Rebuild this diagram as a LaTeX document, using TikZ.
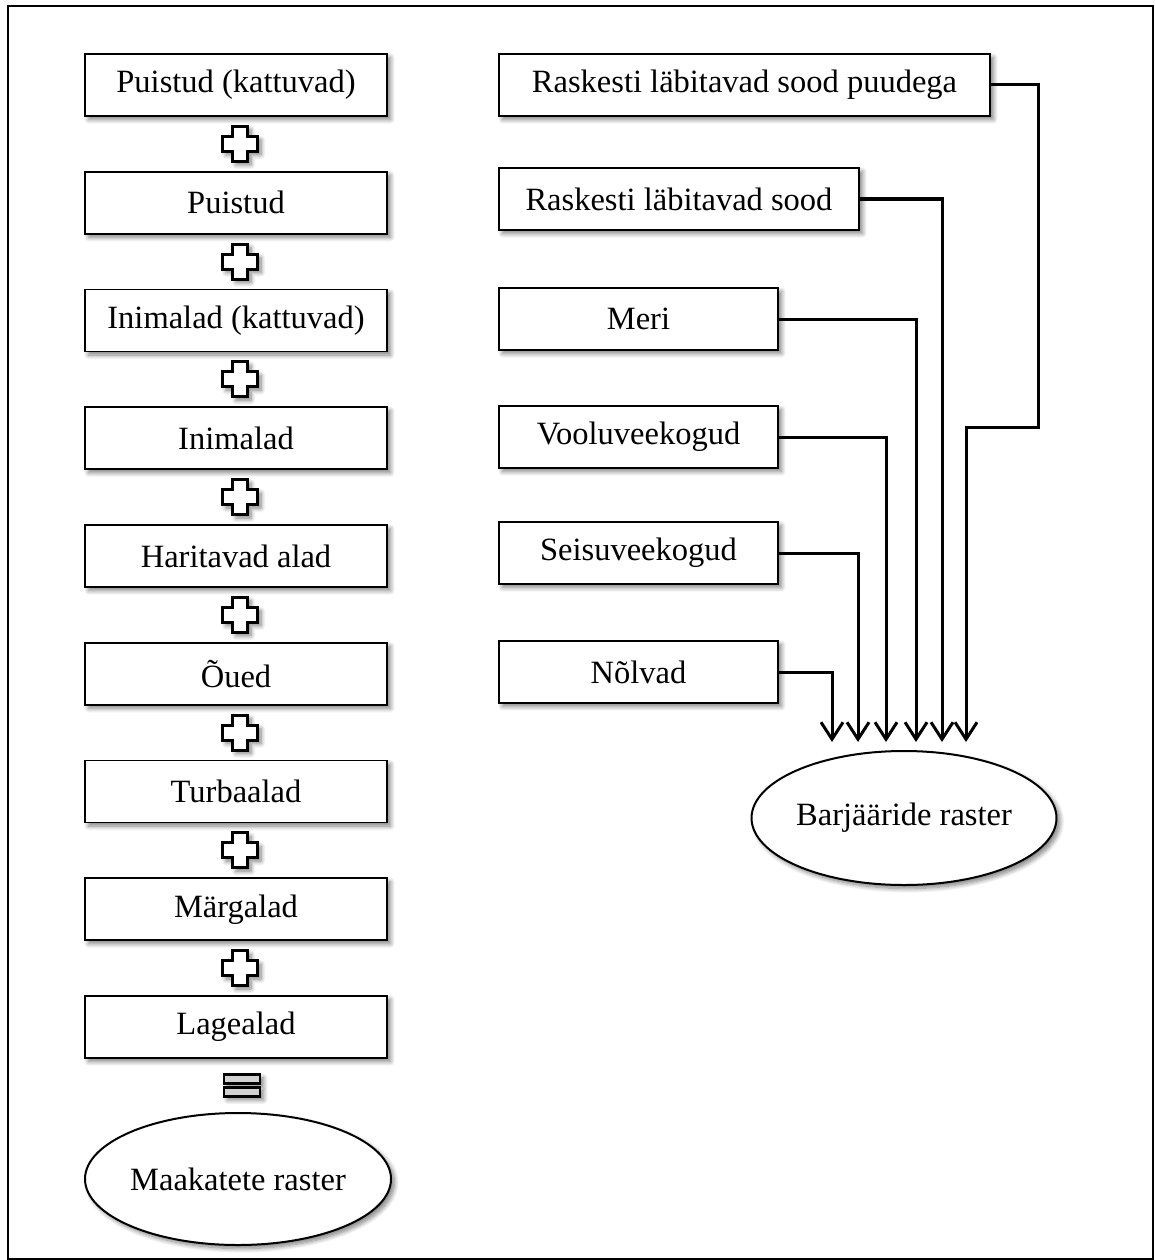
\documentclass[tikz,border=0pt]{standalone}
\usepackage{fontspec}
\setmainfont{Liberation Serif}
\usetikzlibrary{shapes.geometric,arrows.meta,calc,shadows.blur}
\begin{document}
\begin{tikzpicture}[x=1pt,y=-1pt,
  shd/.style={blur shadow={shadow xshift=3.5pt,shadow yshift=-3.5pt,shadow blur radius=4.5pt,shadow blur steps=8,shadow opacity=50}},
  box/.style={draw,line width=1.7pt,fill=white,minimum height=62pt,inner sep=0pt,shd,font=\fontsize{32.5}{38}\selectfont},
  lbox/.style={box,minimum width=302pt},
  oval/.style={ellipse,draw,line width=2pt,fill=white,minimum width=306pt,minimum height=132pt,inner sep=0pt,shd,font=\fontsize{32.5}{38}\selectfont},
  conn/.style={draw,line width=3pt,-{Straight Barb[length=17pt,width=22pt]}},
  plusstyle/.style={draw,line width=3pt,fill=white,line join=miter,shd},
  eqstyle/.style={draw,line width=2.8pt,fill=black!18,shd},
  plussym/.pic={\path[plusstyle] (-7.5,-17.5) -- (7.5,-17.5) -- (7.5,-7.5) -- (17.5,-7.5) -- (17.5,7.5) -- (7.5,7.5) -- (7.5,17.5) -- (-7.5,17.5) -- (-7.5,7.5) -- (-17.5,7.5) -- (-17.5,-7.5) -- (-7.5,-7.5) -- cycle;},
  eqsym/.pic={\path[eqstyle] (-18,-11) rectangle (18,-2); \path[eqstyle] (-18,2) rectangle (18,11);}
]
\useasboundingbox (0,0) rectangle (1154,1260);
\draw[line width=2pt] (8,6) rectangle (1153,1259);

% left column
\node[lbox] (l1) at (236,85) {Puistud (kattuvad)};
\node[lbox] (l2) at (236,202.75) {Puistud};
\node[lbox] (l3) at (236,320.5) {Inimalad (kattuvad)};
\node[lbox] (l4) at (236,438.25) {Inimalad};
\node[lbox] (l5) at (236,556) {Haritavad alad};
\node[lbox] (l6) at (236,673.75) {Õued};
\node[lbox] (l7) at (236,791.5) {Turbaalad};
\node[lbox] (l8) at (236,909.25) {Märgalad};
\node[lbox] (l9) at (236,1027) {Lagealad};
\node[oval] (mr) at (238,1179) {Maakatete raster};

\foreach \a/\b in {l1/l2,l2/l3,l3/l4,l4/l5,l5/l6,l6/l7,l7/l8,l8/l9}
  \pic at ($(\a.south)!0.5!(\b.north)+(4,0)$) {plussym};
\pic at ($(l9.south)!0.5!(mr.north)+(5,0)$) {eqsym};

% right column
\node[box,minimum width=491pt] (r1) at (744.5,85) {Raskesti läbitavad sood puudega};
\node[box,minimum width=360pt] (r2) at (679,199) {Raskesti läbitavad sood};
\node[box,minimum width=279pt] (r3) at (638.5,319) {Meri};
\node[box,minimum width=279pt] (r4) at (638.5,437) {Vooluveekogud};
\node[box,minimum width=279pt] (r5) at (638.5,553) {Seisuveekogud};
\node[box,minimum width=279pt] (r6) at (638.5,672) {Nõlvad};
\node[oval,minimum width=304pt,minimum height=134pt] (br) at (904,818) {Barjääride raster};

\coordinate (b1) at (1038,427);
\coordinate (t1) at (966,742);
\coordinate (t2) at (942,742);
\coordinate (t3) at (916,742);
\coordinate (t4) at (886,742);
\coordinate (t5) at (858,742);
\coordinate (t6) at (832,742);

\draw[conn] (r1.east) -| (b1) -| (t1);
\draw[conn] (r2.east) -| (t2);
\draw[conn] (r3.east) -| (t3);
\draw[conn] (r4.east) -| (t4);
\draw[conn] (r5.east) -| (t5);
\draw[conn] (r6.east) -| (t6);
\end{tikzpicture}
\end{document}
